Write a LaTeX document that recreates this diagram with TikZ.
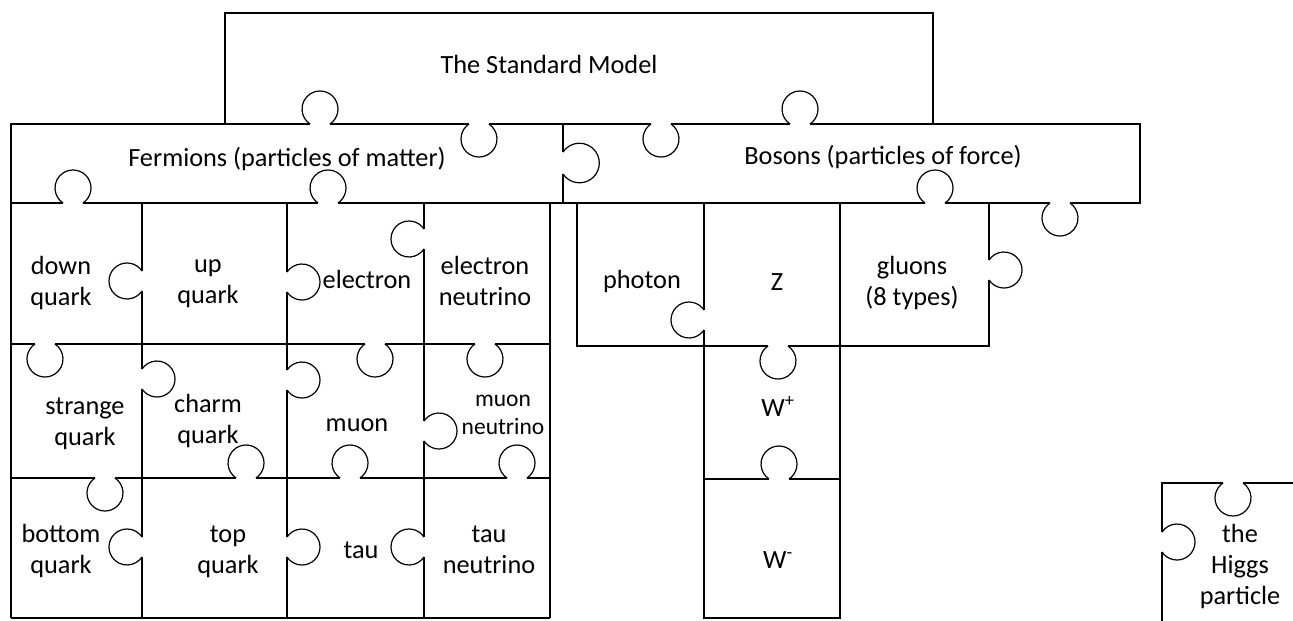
\documentclass[tikz,border=0pt]{standalone}
\usepackage{fontspec}
\setmainfont{Carlito}
\tikzset{
  piece/.style={line width=1.2pt, black},
  lbl/.style={font=\fontsize{26.3}{31}\selectfont, align=center, inner sep=0pt,
    execute at begin node=\strut, execute at end node=\strut},
  lblsmall/.style={font=\fontsize{23.5}{28}\selectfont, align=center, inner sep=0pt,
    execute at begin node=\strut, execute at end node=\strut},
}
% knob: [scale]{x}{y (downward)}{direction angle}
\newcommand{\pknob}[4][1]{%
  \begin{scope}[shift={(#2,-#3)}, rotate=#4-90, scale=#1]
    \draw[white, line width=2.8pt] (-9.95,0) -- (9.95,0);
    \draw[piece] (9.95,0) arc[start angle=-56.44, end angle=236.44, radius=18];
  \end{scope}}
\begin{document}
\begin{tikzpicture}[x=1pt, y=1pt, line join=miter]
\useasboundingbox (0,0) rectangle (1293,-621);
\fill[white] (0,0) rectangle (1293,-621);
% big pieces
\draw[piece] (225,-13) rectangle (933,-124);
\draw[piece] (11,-124) rectangle (563,-203);
\draw[piece] (563,-124) rectangle (1140,-203);
% fermion grid
\foreach \xx in {11,142,287,424,550} \draw[piece] (\xx,-203) -- (\xx,-618);
\foreach \yy in {344,478,618} \draw[piece] (11,-\yy) -- (550,-\yy);
% boson tiles
\draw[piece] (577,-203) rectangle (704,-346);
\draw[piece] (704,-203) rectangle (840,-346);
\draw[piece] (840,-203) rectangle (989,-346);
\draw[piece] (704,-346) rectangle (840,-479);
\draw[piece] (704,-479) rectangle (840,-618);
% Higgs piece
\draw[piece] (1162,-625) -- (1162,-483) -- (1297,-483);
% knobs
\pknob{320}{124}{90}
\pknob{479}{124}{270}
\pknob[1.1]{563}{163}{0}
\pknob{661}{124}{270}
\pknob{800}{124}{90}
\pknob{73}{203}{90}
\pknob{328}{203}{90}
\pknob{935}{203}{90}
\pknob{1060}{203}{270}
\pknob{989}{270}{0}
\pknob{142}{281}{180}
\pknob{287}{282}{0}
\pknob{424}{239}{180}
\pknob{45}{344}{270}
\pknob{142}{379}{0}
\pknob{287}{380}{0}
\pknob{375}{344}{270}
\pknob{485}{344}{270}
\pknob{424}{431}{0}
\pknob{246}{478}{90}
\pknob{350}{478}{90}
\pknob{517}{478}{90}
\pknob{105}{478}{270}
\pknob{142}{547}{180}
\pknob{287}{547}{0}
\pknob{424}{547}{180}
\pknob{704}{320}{180}
\pknob{778}{346}{270}
\pknob{779}{479}{90}
\pknob{1233}{483}{270}
\pknob{1162}{542}{0}
% labels
\node[lbl, anchor=base] (sm) at (549,-73) {The Standard Model};
\node[lbl, anchor=base] (ferm) at (287,-166) {Fermions (particles of matter)};
\node[lbl, anchor=base] (bos) at (883,-164) {Bosons (particles of force)};
\node[lbl] (down) at (61,-286) {down\\quark};
\node[lbl] (up) at (208,-286) {up\\quark};
\node[lbl, anchor=base] (electron) at (367,-288) {electron};
\node[lbl] (enu) at (485,-286) {electron\\neutrino};
\node[lbl, anchor=base] (photon) at (642,-288) {photon};
\node[lbl, anchor=base] (z) at (777,-290) {Z};
\node[lbl] (gluon) at (912,-286) {gluons\\(8 types)};
\node[lbl] (strange) at (85,-426) {strange\\quark};
\node[lbl] (charm) at (208,-424) {charm\\quark};
\node[lbl, anchor=base] (muon) at (357,-431) {muon};
\node[lblsmall] (mnu) at (503,-419) {muon\\neutrino};
\node[lbl, anchor=base] (wp) at (778,-416) {W\textsuperscript{+}};
\node[lbl] (bottom) at (61,-554) {bottom\\quark};
\node[lbl] (top) at (228,-554) {top\\quark};
\node[lbl, anchor=base] (tau) at (361,-558) {tau};
\node[lbl] (tnu) at (489,-554) {tau\\neutrino};
\node[lbl, anchor=base] (wm) at (778,-568) {W\textsuperscript{-}};
\node[lbl] (higgs) at (1240,-569) {the\\Higgs\\particle};
\end{tikzpicture}
\end{document}
